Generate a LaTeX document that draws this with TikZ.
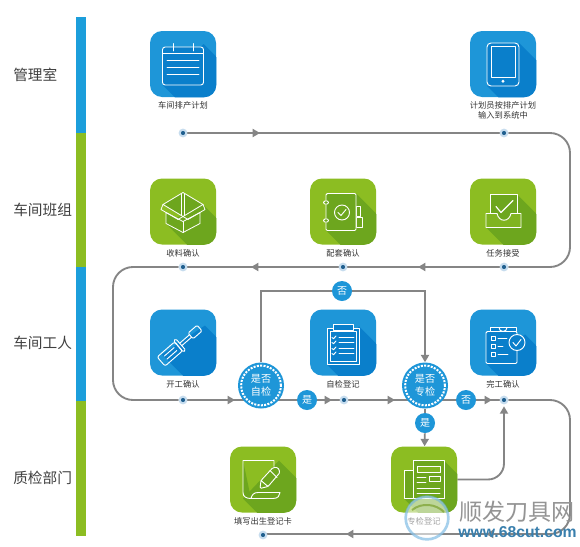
\documentclass[tikz,border=0pt]{standalone}
\usepackage{fontspec}
\setmainfont{Noto Sans CJK SC}
\newfontfamily\wwwfont{Liberation Sans}
\usepackage{xcolor}
\definecolor{flowblue}{HTML}{1E96D8}
\definecolor{flowblued}{HTML}{0A7FCB}
\definecolor{flowgreen}{HTML}{8CBD22}
\definecolor{flowgreend}{HTML}{6DA61E}
\definecolor{flowgray}{HTML}{858585}
\definecolor{dothalo}{HTML}{C6DCEE}
\definecolor{dotcore}{HTML}{1F5F8F}
\usetikzlibrary{positioning,arrows.meta,backgrounds,calc}
\tikzset{
  lane/.style  ={anchor=west, inner sep=0pt, font=\fontsize{11}{13}\selectfont, text=black!75},
  bicon/.style ={rectangle, rounded corners=9pt, fill=flowblue, minimum size=49.5pt, inner sep=0pt},
  gicon/.style ={bicon, fill=flowgreen},
  lbl/.style   ={font=\fontsize{6.2}{7.6}\selectfont, text=black!80, inner sep=0pt, align=center, below=3.2pt of #1},
  gl/.style    ={draw=white, line width=.7pt, line join=round, line cap=round},
  dot/.style   ={circle, draw=dothalo, fill=dotcore, line width=1.5pt,
                 minimum size=5pt, inner sep=0pt},
  check/.style ={circle, fill=flowblue, minimum size=34.5pt, inner sep=0pt, align=center, text=white,
                 font=\fontsize{7.6}{9.5}\selectfont},
  ans/.style   ={circle, fill=flowblue, minimum size=15pt, inner sep=0pt, text=white,
                 font=\fontsize{7.5}{9}\selectfont},
  line/.style  ={draw=flowgray, line width=1.4pt},
  arr/.style   ={line, -{Triangle[length=5.5pt,width=6pt]}},
}
% long shadow of a glyph, from two of its corners
\newcommand{\iconshade}[4]{%
  \begin{scope}
    \clip[rounded corners=9pt] (#1.south west) rectangle (#1.north east);
    \fill[#2, shift={(#1.center)}] (#3) -- ($(#3)+(70,70)$) -- ($(#4)+(70,70)$) -- (#4) -- cycle;
  \end{scope}}
\begin{document}
\begin{tikzpicture}[x=.75pt,y=-.75pt]
  \useasboundingbox (0,0) rectangle (580,546);
  % lanes
  \fill[flowblue!92!cyan]  (76,17)  rectangle (86,133);
  \fill[flowgreen] (76,133) rectangle (86,267);
  \fill[flowblue!92!cyan]  (76,267) rectangle (86,401);
  \fill[flowgreen] (76,401) rectangle (86,536);
  \node[lane] (lane1) at (13,75)  {管理室};
  \node[lane] (lane2) at (13,210) {车间班组};
  \node[lane] (lane3) at (13,343) {车间工人};
  \node[lane] (lane4) at (13,478) {质检部门};

  % icons
  \node[bicon] (plan)  at (183,64)    {};
  \node[bicon] (input) at (503,64)    {};
  \node[gicon] (recv)  at (183,211.5) {};
  \node[gicon] (match) at (343,211.5) {};
  \node[gicon] (task)  at (503,211.5) {};
  \node[bicon] (start) at (183,342.5) {};
  \node[bicon] (self)  at (343,342.5) {};
  \node[bicon] (done)  at (503,342.5) {};
  \node[gicon] (form)  at (263,479.5) {};
  \node[gicon] (proof) at (424,479.5) {};

  \node[lbl=plan]  (lplan)  {车间排产计划};
  \node[lbl=input] (linput) {计划员按排产计划\\输入到系统中};
  \node[lbl=recv]  (lrecv)  {收料确认};
  \node[lbl=match] (lmatch) {配套确认};
  \node[lbl=task]  (ltask)  {任务接受};
  \node[lbl=start] (lstart) {开工确认};
  \node[lbl=self]  (lself)  {自检登记};
  \node[lbl=done]  (ldone)  {完工确认};
  \node[lbl=form]  (lform)  {填写出生登记卡};
  \node[lbl=proof] (lproof) {专检登记};

  % shadows
  \iconshade{plan}{flowblued}{20.5,-20}{-20.5,21}
  \iconshade{input}{flowblued}{16,-21}{-16,22}
  \iconshade{recv}{flowgreend}{20,-7}{-17,12}
  \iconshade{match}{flowgreend}{13,-18}{-17,19}
  \iconshade{task}{flowgreend}{14,-17}{-17,16}
  \iconshade{start}{flowblued}{22,-17}{-21,12}
  \iconshade{self}{flowblued}{16,-16}{-16,22}
  \iconshade{done}{flowblued}{22,-8}{-17,21}
  \iconshade{form}{flowgreend}{16,-19}{-20,19}
  \iconshade{proof}{flowgreend}{20,-19}{-20,19}

  % glyphs
  \begin{scope}[shift={(plan.center)}, gl]
    \draw[fill=flowblued, rounded corners=2pt] (-20.5,-17) rectangle (20.5,21);
    \draw (-20.5,-10.5) -- (20.5,-10.5) (-10,-20.5) -- (-10,-13) (10,-20.5) -- (10,-13);
    \foreach \yy in {-3.5,3.2,10} \draw (-16,\yy) -- (16,\yy);
  \end{scope}
  \begin{scope}[shift={(input.center)}, gl]
    \draw[fill=flowblued, rounded corners=3pt] (-16,-21) rectangle (16,22);
    \draw (-12,-18) rectangle (12,13);
    \fill[white] (0,17.3) circle (1.6);
  \end{scope}
  \begin{scope}[shift={(recv.center)}, gl, line width=.6pt]
    \draw[fill=flowgreend] (0,-19) -- (20,-7) -- (0,5) -- (-20,-7) -- cycle;
    \draw[fill=flowgreend] (-17,1) -- (-17,12) -- (0,21) -- (17,12) -- (17,1) -- (0,10) -- cycle;
    \draw (-20,-7) -- (-22,-2) -- (-5,8) -- (0,5) -- (5,8) -- (22,-2) -- (20,-7);
    \draw (-1.5,-18) -- (-1.5,4) (1.5,-18) -- (1.5,4) (0,10) -- (0,21);
  \end{scope}
  \begin{scope}[shift={(match.center)}, gl]
    \draw[fill=flowgreend] (13,-5) rectangle (17,5) (13,6) rectangle (19,16);
    \draw[fill=flowgreend, rounded corners=1pt] (-17,-18) rectangle (13,19);
    \draw[fill=flowgreend, rounded corners=1pt] (-19.5,-10.5) rectangle (-14.5,-7.5) (-19.5,7.5) rectangle (-14.5,10.5);
    \draw (-1,1) circle (7.5);
    \draw (-5,1) -- (-2,4) -- (3,-2);
  \end{scope}
  \begin{scope}[shift={(task.center)}, gl]
    \draw[fill=flowgreend] (-13,3) -- (-13,-17) -- (14,-17) -- (14,3);
    \draw[line width=.9pt] (-7,-5) -- (-2,1) -- (10,-11);
    \draw[fill=flowgreen!60!flowgreend] (-17,2) -- (-6,2) .. controls (-4,11) and (6,11) .. (8,2) -- (18,2) -- (18,16) -- (-17,16) -- cycle;
  \end{scope}
  \begin{scope}[shift={(start.center)}, gl, rotate=41]
    \draw[rounded corners=1.5pt] (-29,-6) rectangle (-6,6);
    \draw[rounded corners=1pt] (-6,-7.5) rectangle (-3,7.5);
    \draw (-23,-2) -- (-10,-2) (-23,2) -- (-10,2);
    \draw (-3,-1.6) -- (10,-1.6) (-3,1.6) -- (10,1.6);
    \draw[rounded corners=1pt] (10,-3.8) rectangle (22,3.8);
  \end{scope}
  \begin{scope}[shift={(self.center)}, gl]
    \draw[fill=flowblued] (-16,-14) rectangle (16,22);
    \draw (-13,-11) rectangle (13,19);
    \draw[fill=flowblued] (-10,-18) rectangle (10,-12);
    \foreach \yy in {-5,0,6,11} {
      \draw (-11,\yy) -- (-9.5,\yy+1.2) -- (-7,\yy-1.5);
      \draw (-4,\yy) -- (11,\yy);
    }
  \end{scope}
  \begin{scope}[shift={(done.center)}, gl]
    \draw[fill=flowblued, rounded corners=1pt] (-17,-11) rectangle (14,21);
    \draw[fill=flowblued] (-13,-15) rectangle (13,-11);
    \draw (-4,-15) arc[start angle=180, end angle=0, radius=4];
    \draw (-12,-6) rectangle (-8,-2) (-12,2) rectangle (-8,6) (-12,10) rectangle (-8,14);
    \draw (-5,-4) -- (4,-4) (-5,4) -- (0,4) (-5,12) -- (5,12);
    \draw[fill=flowblued] (14,0) circle (8);
    \draw (10,0) -- (13,3.5) -- (18,-3);
  \end{scope}
  \begin{scope}[shift={(form.center)}, gl]
    \draw[fill=flowgreend] (-20,-19) -- (11,-19) (11,-19) -- (11,-13) (-20,-19) -- (-20,13) .. controls (-20,17) and (-17,19) .. (-12,19) -- (10,19) .. controls (15,19) and (17,16) .. (17,13) -- (-5,13) .. controls (-9,13) and (-11,15) .. (-12,19);
    \draw[fill=flowgreend, rounded corners=1pt] (-3,9) -- (-2,1) -- (10,-12) -- (15,-12) -- (17,-7) -- (5,7) -- cycle;
    \draw (7,-9) -- (14,-2) (-2,1) -- (5,7);
  \end{scope}
  \begin{scope}[shift={(proof.center)}, gl]
    \draw[fill=flowgreend] (-20,-9) rectangle (-11,19);
    \draw[fill=flowgreend] (-11,-19) rectangle (20,19);
    \draw[fill=flowgreen!60!flowgreend] (-7,-13) rectangle (16,-7);
    \draw (-7,-2) -- (2,-2) (-7,3) -- (2,3) (-7,9) -- (16,9) (-7,14) -- (16,14);
    \draw (5,-3.5) rectangle (16,1.5);
  \end{scope}

  % dots and decisions
  \node[dot] (dplan)  at (183,133) {};
  \node[dot] (dinput) at (504,133) {};
  \node[dot] (dtask)  at (504,267) {};
  \node[dot] (dmatch) at (343,267) {};
  \node[dot] (drecv)  at (183,267) {};
  \node[dot] (dstart) at (183,400) {};
  \node[dot] (dself)  at (344,400) {};
  \node[dot] (ddone)  at (504,400) {};
  \node[dot] (dform)  at (263,535) {};
  \node[check] (chkself) at (261,385.5) {是否\\自检};
  \node[check] (chkpro)  at (425,385.5) {是否\\专检};
  \draw[white, densely dotted, line width=1.5pt] (chkself) circle (14.9pt) (chkpro) circle (14.9pt);
  \node[ans] (yes1) at (307,400) {是};
  \node[ans] (no1)  at (342,291) {否};
  \node[ans] (no2)  at (466,400) {否};
  \node[ans] (yes2) at (425,423) {是};

  % flow
  \coordinate (cr1) at (570,133);
  \coordinate (cr2) at (570,267);
  \coordinate (cl1) at (113,267);
  \coordinate (cl2) at (113,400);
  \coordinate (cr3) at (570,400);
  \coordinate (cr4) at (570,534);
  \begin{scope}[on background layer]
    \fill[white] (0,0) rectangle (580,546);
    \draw[line] (dplan) -- (dinput);
    \draw[arr] (dplan) -- (260,133);
    \draw[line, rounded corners=15pt] (dinput) -- (cr1) -- (cr2) -- (dtask);
    \draw[line] (dtask) -- (drecv);
    \draw[arr] (dtask) -- (418,267);
    \draw[arr] (dmatch) -- (251,267);
    \draw[line, rounded corners=15pt] (drecv) -- (cl1) -- (cl2) -- (dstart);
    \draw[line] (dstart) -- (dstart -| chkself) -- (ddone);
    \draw[arr] (dstart) -- (235,400);
    \draw[arr] (yes1) -- (332,400);
    \draw[arr] (dself) -- (395,400);
    \draw[arr] (no2) -- (492,400);
    \draw[line, rounded corners=15pt] (ddone) -- (cr3) -- (cr4) -- (dform |- cr4);
    \draw[arr] (cr4) ++(-60,0) -- ++(-24,0);
    \draw[arr] (cr4) ++(-200,0) -- ++(-24,0);
    \draw[line] (chkself) |- (no1);
    \draw[arr] (no1) -| (chkpro);
    \draw[line] (chkpro) -- (yes2);
    \draw[arr] (yes2) -- (proof);
    \draw[arr, rounded corners=12pt, shorten >=1.5pt] (proof.east) -| (ddone);
  \end{scope}

  % mark of the site
  \node[circle, fill=white, fill opacity=.55, minimum size=33pt, inner sep=0pt] (logo) at (427,518) {};
  \draw[flowblued!60, line width=2pt, opacity=.6] (logo) circle (16pt);
  \draw[flowgreen!80!black, line width=1.5pt, opacity=.6] (412,510) .. controls (422,502) and (436,504) .. (444,512);
  \node[font=\fontsize{17.3}{19}\selectfont, text=black!42, inner sep=0pt, anchor=west] (wm1) at (459,512) {顺发刀具网};
  \node[font=\wwwfont\bfseries\fontsize{11.8}{13}\selectfont, text=flowblued!60!gray, inner sep=0pt, anchor=west] (wm2) at (458,532) {www.68cut.com};
\end{tikzpicture}
\end{document}
